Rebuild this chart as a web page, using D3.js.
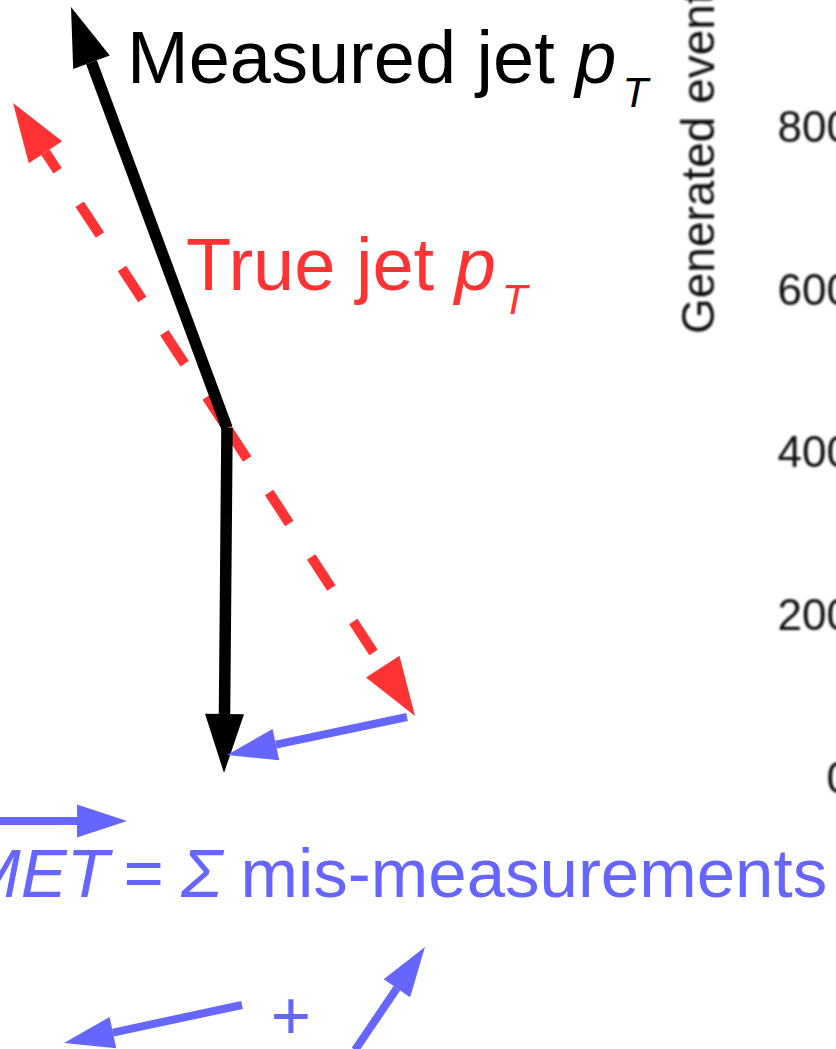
<!DOCTYPE html>
<html>
<head>
<meta charset="utf-8">
<script src="https://cdn.jsdelivr.net/npm/d3@7"></script>
<style>
  html, body { margin: 0; padding: 0; background: #ffffff; overflow: hidden; }
  svg { display: block; font-family: "Liberation Sans", Arial, Helvetica, sans-serif; }
</style>
</head>
<body>
<svg id="chart" width="836" height="1049"></svg>
<script>
// Transverse-plane momentum vectors (GeV), measured from the interaction vertex.
const measuredJets = [[-156, 421], [-3, -345]];
const trueJets = [[-214, 325], [188, -288]];
// Missing transverse energy: from the true-jet tip towards the measured-jet tip
const metVector = [[180, -289], [0, -327]];
// Vector accent drawn over the MET symbol
const metSymbolVector = [[-330, -393], [-100, -393]];
// Individual mis-measurement vectors summed into the MET
const misMeasurements = [
  [[15, -577], [-163, -615]],
  [[128, -622], [198, -519]]
];
// Event-count axis of the neighbouring histogram
const eventTicks = [0, 200, 400, 600, 800];
const eventAxisTitle = "Generated events";

const width = 836, height = 1049;
const svg = d3.select("#chart");

// Diagram coordinates: 1 GeV per pixel, vertex at (227, 428), y pointing up
const x = d3.scaleLinear().domain([-227, 609]).range([0, width]);
const y = d3.scaleLinear().domain([428, -621]).range([0, height]);

const BLACK = "#000000", RED = "#ff3333", BLUE = "#6666ff";

function arrow(g, p0, p1, opt) {
  const x0 = x(p0[0]), y0 = y(p0[1]);
  const x1 = x(p1[0]), y1 = y(p1[1]);
  const dx = x1 - x0, dy = y1 - y0;
  const len = Math.hypot(dx, dy);
  const ux = dx / len, uy = dy / len;
  const bx = x1 - ux * opt.headLen, by = y1 - uy * opt.headLen;
  const px = -uy * opt.headWidth / 2, py = ux * opt.headWidth / 2;
  const line = g.append("line")
    .attr("x1", x0).attr("y1", y0)
    .attr("x2", bx).attr("y2", by)
    .attr("stroke", opt.color)
    .attr("stroke-width", opt.width)
    .attr("stroke-linecap", "butt");
  if (opt.dash) line.attr("stroke-dasharray", opt.dash);
  g.append("path")
    .attr("d", `M${x1},${y1}L${bx + px},${by + py}L${bx - px},${by - py}Z`)
    .attr("fill", opt.color);
}

const diagram = svg.append("g");
const vertex = [0, 0];

// true jets (dashed red)
trueJets.forEach(p => arrow(diagram, vertex, p,
  { color: RED, width: 10, headLen: 59, headWidth: 40, dash: "37 40" }));
// measured jets (solid black)
measuredJets.forEach(p => arrow(diagram, vertex, p,
  { color: BLACK, width: 11.5, headLen: 59, headWidth: 39 }));
// MET vector
arrow(diagram, metVector[0], metVector[1],
  { color: BLUE, width: 8, headLen: 50, headWidth: 32 });
arrow(diagram, metSymbolVector[0], metSymbolVector[1],
  { color: BLUE, width: 8, headLen: 50, headWidth: 33 });
misMeasurements.forEach(v => arrow(diagram, v[0], v[1],
  { color: BLUE, width: 8, headLen: 50, headWidth: 32 }));

// Labels
const t1 = diagram.append("text")
  .attr("x", 127).attr("y", 83)
  .attr("font-size", 74).attr("fill", BLACK);
t1.append("tspan").text("Measured jet ");
t1.append("tspan").attr("font-style", "italic").text("p");
t1.append("tspan").attr("font-style", "italic").attr("font-size", 42)
  .attr("dx", 6).attr("dy", 24).text("T");

const t2 = diagram.append("text")
  .attr("x", 186).attr("y", 290)
  .attr("font-size", 74).attr("fill", RED);
t2.append("tspan").text("True jet ");
t2.append("tspan").attr("font-style", "italic").text("p");
t2.append("tspan").attr("font-style", "italic").attr("font-size", 42)
  .attr("dx", 6).attr("dy", 24).text("T");

const eqY = 897;
diagram.append("text").attr("x", 109).attr("y", eqY)
  .attr("text-anchor", "end").attr("font-size", 69).attr("font-style", "italic")
  .attr("fill", BLUE).text("MET");
diagram.append("text").attr("x", 123.5).attr("y", eqY)
  .attr("font-size", 69).attr("fill", BLUE).text("=");
diagram.append("text").attr("x", 181).attr("y", eqY)
  .attr("font-size", 69).attr("font-style", "italic").attr("fill", BLUE).text("Σ");
diagram.append("text").attr("x", 240.5).attr("y", eqY)
  .attr("font-size", 69).attr("fill", BLUE).text("mis-measurements");
diagram.append("text").attr("x", 291).attr("y", 1039)
  .attr("text-anchor", "middle").attr("font-size", 69).attr("fill", BLUE).text("+");

// Neighbouring histogram's event axis (soft, raster-like)
const defs = svg.append("defs");
defs.append("filter").attr("id", "soft")
  .append("feGaussianBlur").attr("stdDeviation", 0.8);

const eventY = d3.scaleLinear().domain([0, 800]).range([778, 127.5]);
const axisG = svg.append("g")
  .attr("filter", "url(#soft)")
  .attr("transform", "translate(862,0)")
  .call(d3.axisLeft(eventY).tickValues(eventTicks).tickSize(6).tickPadding(5));
axisG.selectAll("text")
  .attr("font-size", 44)
  .attr("font-family", "'Liberation Sans', Arial, sans-serif")
  .attr("fill", "#111");
axisG.selectAll("line, path").attr("stroke", "#111");

svg.append("g").attr("filter", "url(#soft)")
  .append("text")
  .attr("transform", "rotate(-90)")
  .attr("x", -334).attr("y", 714)
  .attr("font-size", 46).attr("fill", "#111")
  .text(eventAxisTitle);
</script>
</body>
</html>
